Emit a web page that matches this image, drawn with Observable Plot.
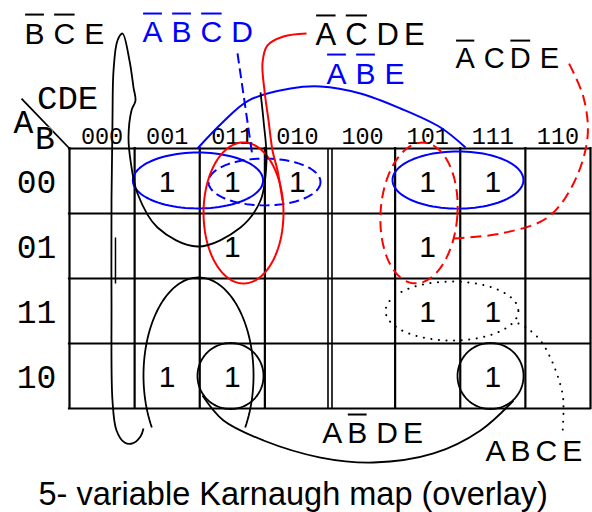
<!DOCTYPE html>
<html><head><meta charset="utf-8">
<script src="https://cdn.jsdelivr.net/npm/d3@7"></script>
<script src="https://cdn.jsdelivr.net/npm/@observablehq/plot@0.6"></script>
<style>
body{margin:0;background:#fff;}
#chart svg{display:block;}
#cap{font-family:"Liberation Sans",Arial,sans-serif;font-size:32.5px;line-height:40px;padding:4px 0 0 38.5px;white-space:nowrap;color:#000;}
</style></head><body>
<div id="chart"></div>
<div id="cap">5- variable Karnaugh map (overlay)</div>
<script>
// ---- data ----
const colLabels = ["000","001","011","010","100","101","111","110"]; // CDE
const rowLabels = ["00","01","11","10"];                           // AB
const row00 = [0,1,1,1,0,1,1,0];
const row01 = [0,0,1,0,0,1,0,0];
const row11 = [0,0,0,0,0,1,1,0];
const row10 = [0,1,1,0,0,0,1,0];
const varNames = ["CDE","A","B"];
const terms = ["B\u0304C\u0304E","A\u0304B\u0304C\u0304D","A\u0304C\u0304DE","A\u0304B\u0304E","A\u0304CD\u0304E","AB\u0304DE","ABCE"];

// ---- annotation layout (in cell units: columns, rows) ----
const varLayout = {
  "CDE": {x:-0.499, y:-0.615, size:34},
  "A":   {x:-0.860, y:-0.231, size:33},
  "B":   {x:-0.531, y:0,      size:33}
};
const termLayout = [
  {x:-0.691, y:-1.615, color:"black", size:30},
  {x: 1.121, y:-1.631, color:"blue",  size:30},
  {x: 3.777, y:-1.585, color:"black", size:31},
  {x: 3.946, y:-1.000, color:"blue",  size:30},
  {x: 5.927, y:-1.231, color:"black", size:29},
  {x: 3.880, y: 4.538, color:"black", size:30},
  {x: 6.388, y: 4.800, color:"black", size:30}
];
function ellipse(cx, cy, rx, ry, rot = 0, a0 = 0, a1 = 360, n = 96) {
  const pts = [], r = rot * Math.PI / 180;
  for (let i = 0; i <= n; i++) {
    const t = (a0 + (a1 - a0) * i / n) * Math.PI / 180;
    const ex = rx * Math.cos(t), ey = ry * Math.sin(t);
    pts.push([cx + ex * Math.cos(r) - ey * Math.sin(r), cy + ex * Math.sin(r) + ey * Math.cos(r)]);
  }
  return pts;
}
const loops = [
  {pts: ellipse(1.973,0.492,1.0,0.43), stroke:"blue", w:2},
  {pts: ellipse(5.965,0.485,1.005,0.44), stroke:"blue", w:2},
  {pts: ellipse(2.994,0.515,0.86,0.36), stroke:"blue", w:2, dash:"10,5"},
  {pts: ellipse(2.672,0.992,0.614,1.085), stroke:"red", w:2},
  {pts: ellipse(5.367,0.992,0.59,1.085,4), stroke:"red", w:2, dash:"11,6"},
  {pts: ellipse(5.873,2.5,1.02,0.454), stroke:"black", w:2, dash:"0.1,7.5", cap:"round"},
  {pts: ellipse(2.472,3.5,0.507,0.508), stroke:"black", w:1.8},
  {pts: ellipse(6.465,3.5,0.507,0.508), stroke:"black", w:1.8},
  {pts: ellipse(1.981,3.492,0.845,1.508,0,148,392), stroke:"black", w:1.8},
  {pts: [[1.965,0],[2.349,-0.4],[2.749,-0.738],[3.393,-0.923],[3.854,-0.954],[4.468,-0.846],[5.083,-0.615],[5.697,-0.323],[6.081,-0.015]], stroke:"blue", w:2, curve:"catmull-rom"},
  {pts: [[2.580,-1.462],[2.810,0.123]], stroke:"blue", w:2, dash:"10,5"},
  {pts: [[3.271,0.8],[3.194,0.338],[3.117,0.031],[3.056,-0.431],[2.994,-0.892],[2.964,-1.323],[3.040,-1.585],[3.286,-1.723],[3.639,-1.769]], stroke:"red", w:2, curve:"catmull-rom"},
  {pts: [[5.896,1.385],[6.618,1.308],[7.340,1.062],[7.739,0.538],[7.954,-0.169],[7.893,-0.785],[7.662,-1.323]], stroke:"red", w:2, dash:"11,6", curve:"catmull-rom"},
  {pts: [[6.894,2.692],[7.033,2.769],[7.232,2.954],[7.417,3.292],[7.570,3.769],[7.585,4.031],[7.570,4.385]], stroke:"black", w:2, dash:"0.1,7.5", cap:"round", curve:"catmull-rom"},
  {pts: [[2.042,3.8],[2.365,4.185],[2.979,4.492],[3.854,4.754],[4.668,4.831],[5.590,4.692],[6.311,4.338],[6.818,3.877]], stroke:"black", w:1.8, curve:"catmull-rom"},
  {pts: [[2.933,-0.862],[2.979,-0.431],[3.025,0.185],[2.933,0.8],[2.626,1.215],[1.965,1.508],[1.351,1.215],[1.044,0.692],[0.937,0.185],[0.906,-0.169],[0.952,-0.585],[1.013,-0.738],[0.983,-0.938],[0.921,-1.354],[0.814,-1.769],[0.737,-1.662],[0.676,-1.2],[0.660,-0.431],[0.645,0.8],[0.645,2.338],[0.660,3.877],[0.722,4.338],[0.845,4.523],[0.967,4.538],[1.090,4.431],[1.136,4.308]], stroke:"black", w:1.8, curve:"catmull-rom"},
  {pts: [[0.706,1.369],[0.706,2.077]], stroke:"black", w:1.5}
];

const rows = [row00, row01, row11, row10];
const cells = [];
rows.forEach((r, i) => r.forEach((v, j) => { if (v) cells.push({row: rowLabels[i], col: colLabels[j], value: v}); }));

const mono = "'Liberation Mono', 'Courier New', monospace";
const sans = "'Liberation Sans', Arial, sans-serif";

const marks = [
  Plot.ruleX([0,1,2,3,5,6,7,8], {x: d => d, y1: 0, y2: 4, stroke: "black", strokeWidth: 2.2, strokeLinecap: "square"}),
  Plot.ruleX([4], {x: d => d, y1: 0, y2: 4, dx: -2, stroke: "black", strokeWidth: 1.6}),
  Plot.ruleX([4], {x: d => d, y1: 0, y2: 4, dx: 2, stroke: "black", strokeWidth: 1.6}),
  Plot.ruleY([0,1,2,3,4], {y: d => d, x1: 0, x2: 8, stroke: "black", strokeWidth: 2.2, strokeLinecap: "square"}),
  Plot.link([0], {x1: () => -0.737, y1: () => -0.769, x2: () => 0, y2: () => 0, stroke: "black", strokeWidth: 1.8}),
  Plot.text(colLabels, {x: (d, i) => i + 0.5, y: () => 0, dy: -5, text: d => d, lineAnchor: "bottom", fontFamily: mono, fontSize: 23.5, fill: "black", stroke: "white", strokeWidth: 0.7}),
  Plot.text(rowLabels, {x: () => 0, y: (d, i) => i + 0.5, dx: -33, dy: 12, text: d => d, lineAnchor: "bottom", fontFamily: mono, fontSize: 33, fill: "black", stroke: "white", strokeWidth: 1}),
  Plot.text(varNames, {x: d => varLayout[d].x, y: d => varLayout[d].y, text: d => d, textAnchor: "start", lineAnchor: "bottom", fontFamily: mono, fontSize: d => varLayout[d].size, fill: "black", stroke: "white", strokeWidth: 0.9}),
  Plot.text(cells, {x: d => colLabels.indexOf(d.col) + 0.5, y: d => rowLabels.indexOf(d.row) + 0.5, dy: 11, text: d => String(d.value), lineAnchor: "bottom", fontFamily: sans, fontSize: 30, fill: "black"}),
  ...loops.map(l => Plot.line(l.pts, {x: d => d[0], y: d => d[1], stroke: l.stroke, strokeWidth: l.w, strokeDasharray: l.dash, strokeLinecap: l.cap || "butt", curve: l.curve || "linear", fill: "none"})),
  Plot.text(terms, {x: (d, i) => termLayout[i].x, y: (d, i) => termLayout[i].y, text: d => d, textAnchor: "start", lineAnchor: "bottom", fontFamily: sans, fontSize: (d, i) => termLayout[i].size, fill: (d, i) => termLayout[i].color})
];

const chart = Plot.plot({
  width: 592, height: 470,
  margin: 0,
  x: {domain: [0, 8], range: [69, 590], axis: null},
  y: {domain: [0, 4], range: [148, 408], axis: null},
  style: {background: "white", overflow: "visible"},
  marks
});
document.getElementById("chart").appendChild(chart);

const monoTexts = new Set([...colLabels, ...rowLabels, ...varNames]);
const SVGNS = "http://www.w3.org/2000/svg";
chart.querySelectorAll("text").forEach(t => {
  const s = t.textContent;
  t.style.fontFamily = monoTexts.has(s) ? mono : sans;
  if (!terms.includes(s)) return;
  // split the term into letters; a letter followed by U+0304 is negated
  const chars = [];
  for (let i = 0; i < s.length; i++) {
    if (s[i + 1] === "\u0304") { chars.push([s[i], true]); i++; } else chars.push([s[i], false]);
  }
  t.textContent = "";
  chars.forEach(([c, o], k) => {
    const ts = document.createElementNS(SVGNS, "tspan");
    ts.textContent = c;
    if (k > 0) ts.setAttribute("dx", chars[k - 1][1] ? 9 : 5);
    t.appendChild(ts);
  });
  // overbar for each negated letter, placed from the letter's own glyph box
  const fs = parseFloat(getComputedStyle(t).fontSize);
  const color = t.getAttribute("fill") || getComputedStyle(t).fill;
  chars.forEach(([c, o], k) => {
    if (!o) return;
    const e = t.getExtentOfChar(k);
    const ln = document.createElementNS(SVGNS, "line");
    ln.setAttribute("x1", e.x + 0.02 * fs);
    ln.setAttribute("x2", e.x + e.width - 0.02 * fs);
    const yb = e.y - 0.065 * fs;
    ln.setAttribute("y1", yb);
    ln.setAttribute("y2", yb);
    ln.setAttribute("stroke", color);
    ln.setAttribute("stroke-width", 2);
    if (t.getAttribute("transform")) ln.setAttribute("transform", t.getAttribute("transform"));
    t.parentNode.appendChild(ln);
  });
});
</script>
</body></html>
